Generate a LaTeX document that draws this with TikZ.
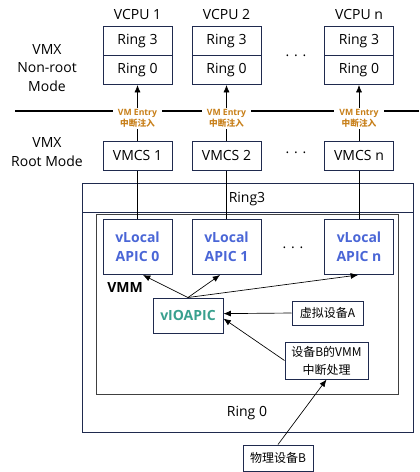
\documentclass[tikz,border=0pt]{standalone}
\usepackage{fontspec}
\setmainfont{Open Sans}
\newfontfamily\cjk{Noto Sans CJK SC}
\usetikzlibrary{arrows.meta,positioning}
\definecolor{navy}{HTML}{1F2A4E}
\definecolor{entry}{HTML}{C8801A}
\definecolor{apicblue}{HTML}{4A66D6}
\definecolor{ioteal}{HTML}{39A08E}

\begin{document}
\begin{tikzpicture}[x=0.75pt,y=-0.75pt,
    ringbox/.style={draw=navy, line width=0.75pt, minimum width=51.75pt, minimum height=21.75pt, inner sep=0pt, font=\fontsize{10.5}{12}\selectfont},
    apic/.style={draw=navy, line width=0.75pt, minimum width=51.75pt, minimum height=41.25pt, inner sep=0pt, align=center, text=apicblue, font=\fontsize{10.5}{14}\selectfont\bfseries},
    dev/.style={draw=navy, line width=0.75pt, inner sep=0pt, align=center, font=\cjk\fontsize{9}{13.5}\selectfont},
    entry/.style={fill=white, inner xsep=4pt, inner ysep=1pt, align=center, text=entry, font=\fontsize{6.5}{8.5}\selectfont\bfseries},
    txt/.style={align=center, font=\fontsize{10.5}{14}\selectfont},
    arr/.style={-{Latex[length=5.5pt,width=4.5pt]}, line width=0.5pt},
    lnk/.style={line width=0.6pt}
]
\useasboundingbox (0,0) rectangle (419,472);

% VMX non-root side
\node[txt] (nonroot) at (47,68) {VMX\\Non-root\\Mode};
\node[txt] (vcpua) at (137.5,14) {VCPU 1};
\node[txt] (vcpub) at (226.5,14) {VCPU 2};
\node[txt] (vcpun) at (359,14) {VCPU n};
\node[ringbox] (ua) at (137.5,41) {Ring 3};
\node[ringbox] (ka) at (137.5,70) {Ring 0};
\node[ringbox] (ub) at (226.5,41) {Ring 3};
\node[ringbox] (kb) at (226.5,70) {Ring 0};
\node[ringbox] (un) at (359,41) {Ring 3};
\node[ringbox] (kn) at (359,70) {Ring 0};
\node[txt] (dotsa) at (296,56) {. . .};

% mode border with VM entry labels
\draw[line width=1.2pt] (15,111) -- (419,111);
\node[entry] (ea) at (137.5,118.5) {VM Entry\\{\cjk 中断注入}};
\node[entry] (eb) at (226.5,118.5) {VM Entry\\{\cjk 中断注入}};
\node[entry] (en) at (359,118.5) {VM Entry\\{\cjk 中断注入}};

% VMX root side
\node[txt] (root) at (47,152) {VMX\\Root Mode};
\node[ringbox] (ca) at (137.5,155.5) {VMCS 1};
\node[ringbox] (cb) at (226.5,155.5) {VMCS 2};
\node[ringbox] (cn) at (359,155.5) {VMCS n};
\node[txt] (dotsb) at (296,153) {. . .};

% host rings and VMM
\draw[navy, line width=0.75pt] (82,183) rectangle (413,432);
\draw[navy, line width=0.75pt] (82,212) -- (413,212);
\draw[black!75, line width=0.75pt] (96,214) rectangle (398,394);
\node[txt] (ringu) at (247,199) {Ring3};
\node[txt] (ringk) at (247,413) {Ring 0};
\node[txt, font=\fontsize{10.5}{12}\selectfont\bfseries] (vmm) at (125,287) {VMM};

\node[apic] (la) at (137.5,247) {vLocal\\APIC 0};
\node[apic] (lb) at (226.5,247) {vLocal\\APIC 1};
\node[apic] (ln) at (359,247) {vLocal\\APIC n};
\node[txt] (dotsc) at (293,248) {. . .};

\node[draw=navy, line width=0.75pt, minimum width=52.5pt, minimum height=26.25pt, inner sep=0pt, text=ioteal, font=\fontsize{10.5}{12}\selectfont\bfseries] (io) at (188,315.5) {vIOAPIC};
\node[dev, minimum width=53.25pt, minimum height=18pt] (deva) at (327.5,313) {虚拟设备A};
\node[dev, minimum width=62.25pt, minimum height=27.75pt] (devb) at (326.5,360.5) {设备B的VMM\\中断处理};
\node[dev, minimum width=52.5pt, minimum height=19.5pt] (phys) at (278,458) {物理设备B};

% connectors
\draw[arr] (ea) -- (ka);
\draw[arr] (eb) -- (kb);
\draw[arr] (en) -- (kn);
\draw[lnk] (ea) -- (ca);
\draw[lnk] (eb) -- (cb);
\draw[lnk] (en) -- (cn);
\draw[lnk] (ca) -- (la);
\draw[lnk] (cb) -- (lb);
\draw[lnk] (cn) -- (ln);
\draw[arr] (io.north) -- (la.-79);
\draw[arr] (io.north) -- (lb.-103);
\draw[arr] (io.north) -- (ln.-92);
\draw[arr] (deva.west) -- (io.3);
\draw[arr] (devb.west) -- (io.-5);
\draw[arr] (phys.north) -- (devb.south);
\end{tikzpicture}
\end{document}
